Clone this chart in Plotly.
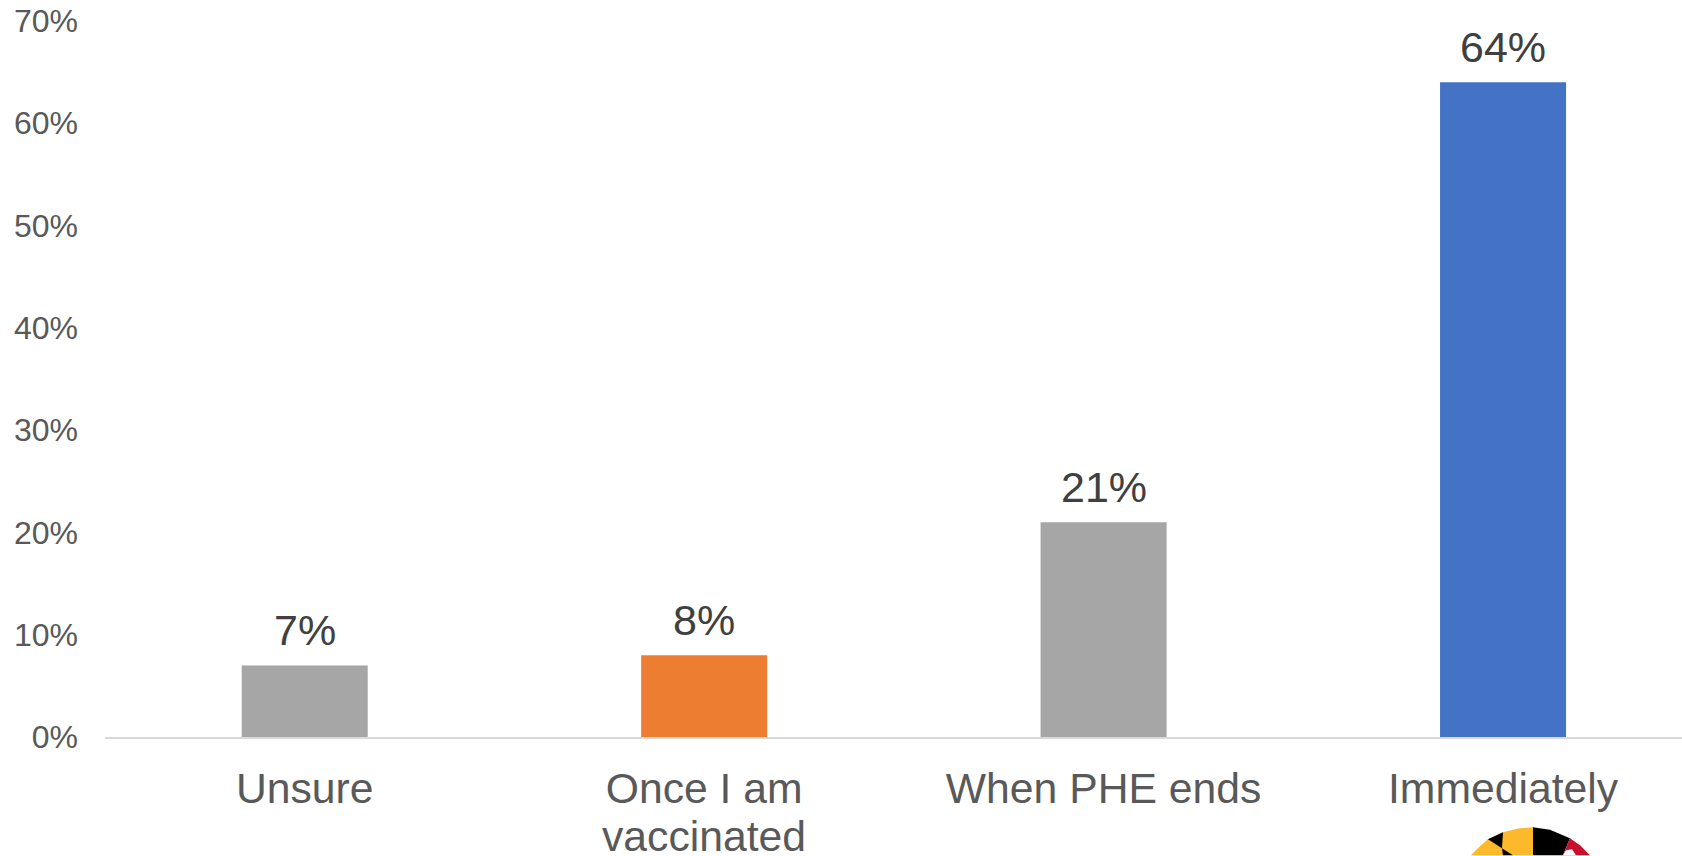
import plotly.graph_objects as go

categories = ["Unsure", "Once I am vaccinated", "When PHE ends", "Immediately"]
tick_first_lines = ["Unsure", "Once I am", "When PHE ends", "Immediately"]
values = [7, 8, 21, 64]
labels = ["7%", "8%", "21%", "64%"]
colors = ["#A6A6A6", "#ED7D31", "#A6A6A6", "#4472C4"]
yticks = [0, 10, 20, 30, 40, 50, 60, 70]
yticklabels = ["0%", "10%", "20%", "30%", "40%", "50%", "60%", "70%"]

W, H = 1682, 856
L, R, T, B = 105.3, 0, 20.5, 118.5


def px(x):
    return (x - L) / (W - L - R)


def py(y):
    return 1 - (y - T) / (H - T - B)


def poly(points, color):
    path = "M " + " L ".join(f"{px(x):.5f},{py(y):.5f}" for x, y in points) + " Z"
    return dict(type="path", xref="paper", yref="paper", path=path,
                fillcolor=color, line_width=0, layer="above")


fig = go.Figure(go.Bar(
    x=categories, y=values, marker=dict(color=colors, line_width=0), width=0.3155,
    hoverinfo="skip",
))

for c, v, t in zip(categories, values, labels):
    fig.add_annotation(x=c, y=v, text=t, showarrow=False, yanchor="bottom", yshift=9,
                       font=dict(family="Liberation Sans", size=43, color="#404040"))

fig.add_annotation(x=categories[1], y=0, text="vaccinated", showarrow=False, yanchor="top", yshift=-73,
                   font=dict(family="Liberation Sans", size=42.7, color="#595959"))

# Maryland-flag logo, cropped by the bottom of the page
shapes = [
    poly([(1471, 856), (1480, 847), (1488, 840), (1503, 833), (1518, 829), (1533, 828), (1533, 856)], "#FDB92C"),
    poly([(1488, 840), (1503, 833), (1502, 849)], "#000000"),
    poly([(1502, 849), (1513, 856), (1503, 856)], "#000000"),
    poly([(1533, 828), (1550, 830.5), (1570, 839), (1563, 856), (1533, 856)], "#000000"),
    poly([(1570, 839), (1580, 846), (1590, 856), (1563, 856)], "#C8102E"),
    poly([(1563, 856), (1566, 851), (1572, 850), (1576, 856)], "#FFFFFF"),
]

fig.update_layout(
    width=W, height=H, autosize=False,
    margin=dict(l=L, r=R, t=T, b=B, pad=0),
    paper_bgcolor="white", plot_bgcolor="white", showlegend=False,
    font=dict(family="Liberation Sans"),
    shapes=shapes,
    xaxis=dict(categoryorder="array", categoryarray=categories, range=[-0.5, 3.448],
               tickvals=categories, ticktext=tick_first_lines,
               showgrid=False, showline=True, linecolor="#D9D9D9", linewidth=2, ticks="",
               tickfont=dict(size=42.7, color="#595959"), tickangle=0, ticklabelstandoff=13),
    yaxis=dict(range=[0, 70], tickvals=yticks, ticktext=yticklabels, showgrid=False, zeroline=False,
               ticks="", tickfont=dict(size=32, color="#595959"), ticklabelstandoff=26),
)
fig.write_html("out.html", config={"displayModeBar": False},
               post_script="document.body.style.margin='0';document.documentElement.style.overflow='hidden';")
